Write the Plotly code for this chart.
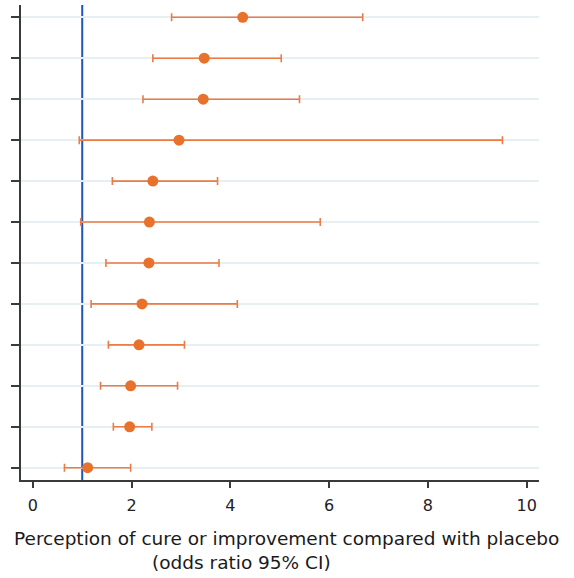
import plotly.graph_objects as go

# Odds ratios (95% CI) for perceived cure or improvement vs placebo, listed top to bottom
odds_ratio = [4.25, 3.47, 3.45, 2.96, 2.43, 2.36, 2.35, 2.21, 2.15, 1.98, 1.96, 1.11]
ci_lower = [2.81, 2.43, 2.23, 0.94, 1.61, 0.97, 1.48, 1.18, 1.53, 1.37, 1.63, 0.64]
ci_upper = [6.68, 5.03, 5.40, 9.51, 3.74, 5.82, 3.77, 4.14, 3.07, 2.93, 2.41, 1.98]
x_ticks = [0, 2, 4, 6, 8, 10]
null_value = 1

n = len(odds_ratio)
rows = list(range(n))
err_plus = [u - o for u, o in zip(ci_upper, odds_ratio)]
err_minus = [o - l for o, l in zip(odds_ratio, ci_lower)]

FONT = "DejaVu Sans, Verdana, sans-serif"
AXIS_COLOR = "#3a3a3a"

fig = go.Figure()
fig.add_trace(go.Scatter(
    x=odds_ratio, y=rows, mode="markers",
    marker=dict(color="#e8712c", size=11),
    error_x=dict(type="data", symmetric=False, array=err_plus, arrayminus=err_minus,
                 color="#ec7b45", thickness=1.6, width=4),
    showlegend=False,
))

# reference line at OR = 1
fig.add_shape(type="line", x0=null_value, x1=null_value, xref="x", y0=0, y1=1, yref="paper",
              line=dict(color="#1f55b8", width=2), layer="between")

fig.update_xaxes(
    range=[-0.24, 10.25], tickvals=x_ticks, ticks="outside", ticklen=6, tickwidth=1.5,
    tickcolor=AXIS_COLOR, showline=True, linecolor=AXIS_COLOR, linewidth=1.5,
    showgrid=False, zeroline=False, ticklabelstandoff=4,
    tickfont=dict(family=FONT, size=16, color="#222222"),
)
fig.update_yaxes(
    range=[n - 1 + 0.3, -0.3], tickvals=rows, showticklabels=False,
    ticks="outside", ticklen=8, tickwidth=1.5, tickcolor=AXIS_COLOR,
    showline=True, linecolor=AXIS_COLOR, linewidth=1.5,
    showgrid=True, gridcolor="#e6eff2", gridwidth=1.5, zeroline=False,
)

fig.add_annotation(text="Perception of cure or improvement compared with placebo",
                   xref="paper", yref="paper", x=0.5135, y=-0.124, xanchor="center", yanchor="middle",
                   showarrow=False, font=dict(family=FONT, size=18.5, color="#1a1a1a"))
fig.add_annotation(text="(odds ratio 95% CI)",
                   xref="paper", yref="paper", x=0.4257, y=-0.173, xanchor="center", yanchor="middle",
                   showarrow=False, font=dict(family=FONT, size=18.5, color="#1a1a1a"))

fig.update_layout(
    width=574, height=578,
    margin=dict(l=21, r=35, t=5, b=98),
    plot_bgcolor="white", paper_bgcolor="white",
)

fig.write_html("out.html")
